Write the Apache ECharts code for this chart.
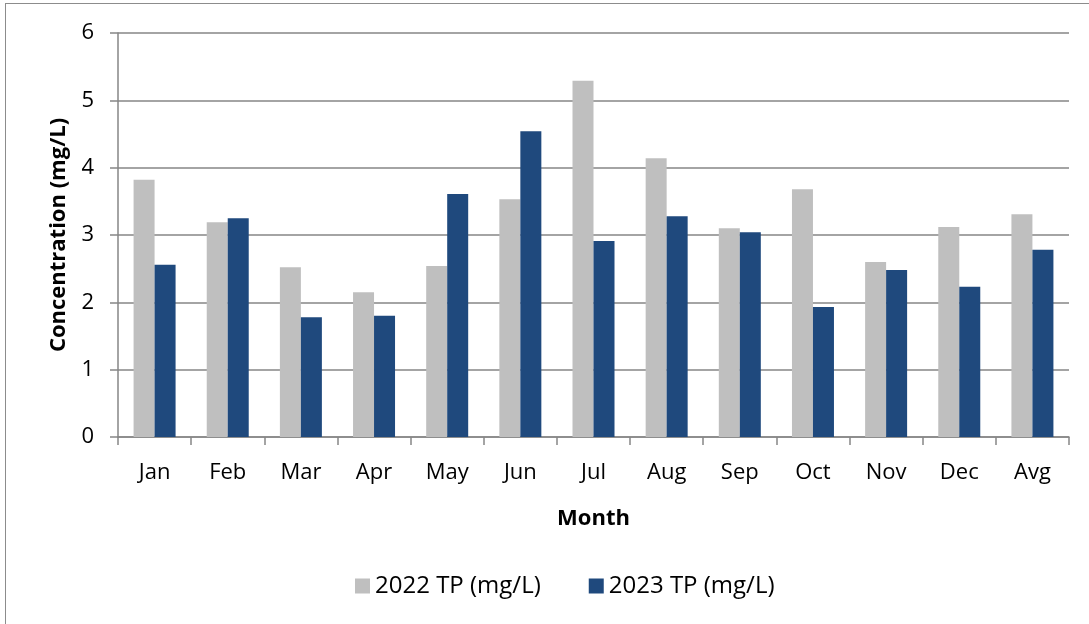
<!DOCTYPE html>
<html>
<head>
<meta charset="utf-8">
<script src="https://cdn.jsdelivr.net/npm/echarts@6/dist/echarts.min.js"></script>
<style>
  html, body { margin: 0; padding: 0; background: #fff; }
  #frame { position: absolute; left: 5px; top: 3px; width: 1100px; height: 640px; border: 1.5px solid #8c8c8c; box-sizing: border-box; }
  #chart { position: absolute; left: 0; top: 0; width: 1089px; height: 624px; }
</style>
</head>
<body>
<div id="frame"></div>
<div id="chart"></div>
<script>
const months = ['Jan', 'Feb', 'Mar', 'Apr', 'May', 'Jun', 'Jul', 'Aug', 'Sep', 'Oct', 'Nov', 'Dec', 'Avg']
const tp2022 = [3.82, 3.19, 2.52, 2.15, 2.54, 3.53, 5.29, 4.14, 3.10, 3.68, 2.60, 3.12, 3.31]
const tp2023 = [2.56, 3.25, 1.78, 1.80, 3.61, 4.54, 2.91, 3.28, 3.04, 1.93, 2.48, 2.23, 2.78]

const font = '"Open Sans", "Liberation Sans", sans-serif'
const chart = echarts.init(document.getElementById('chart'), null, { renderer: 'canvas' })

chart.setOption({
  backgroundColor: 'transparent',
  animation: false,
  textStyle: { fontFamily: font },
  grid: { left: 118, right: 20, top: 33, bottom: 187, containLabel: false },
  legend: {
    bottom: 21,
    left: 350,
    itemWidth: 15,
    itemHeight: 15,
    itemGap: 48,
    icon: 'rect',
    textStyle: { fontSize: 24, color: '#000', fontFamily: font },
    data: ['2022 TP (mg/L)', '2023 TP (mg/L)']
  },
  xAxis: {
    type: 'category',
    data: months,
    name: 'Month',
    nameLocation: 'middle',
    nameGap: 71,
    nameTextStyle: { fontSize: 22, fontWeight: 'bold', color: '#000', fontFamily: font },
    axisLine: { lineStyle: { color: '#868686', width: 1.5 } },
    axisTick: { show: true, length: 8, lineStyle: { color: '#868686', width: 1.5 } },
    axisLabel: { fontSize: 22, color: '#000', margin: 25, fontFamily: font }
  },
  yAxis: {
    type: 'value',
    min: 0,
    max: 6,
    interval: 1,
    name: 'Concentration (mg/L)',
    nameLocation: 'middle',
    nameGap: 48,
    nameTextStyle: { fontSize: 22, fontWeight: 'bold', color: '#000', fontFamily: font },
    axisLine: { show: true, lineStyle: { color: '#868686', width: 1.5 } },
    axisTick: { show: true, length: 8, lineStyle: { color: '#868686', width: 1.5 } },
    splitLine: { lineStyle: { color: '#868686', width: 1.5 } },
    axisLabel: { fontSize: 22, color: '#000', margin: 24, fontFamily: font }
  },
  series: [
    {
      name: '2022 TP (mg/L)',
      type: 'bar',
      data: tp2022,
      barWidth: 21,
      barGap: '0%',
      itemStyle: { color: '#bfbfbf' }
    },
    {
      name: '2023 TP (mg/L)',
      type: 'bar',
      data: tp2023,
      barWidth: 21,
      barGap: '0%',
      itemStyle: { color: '#1f497d' }
    }
  ]
})
</script>
</body>
</html>
